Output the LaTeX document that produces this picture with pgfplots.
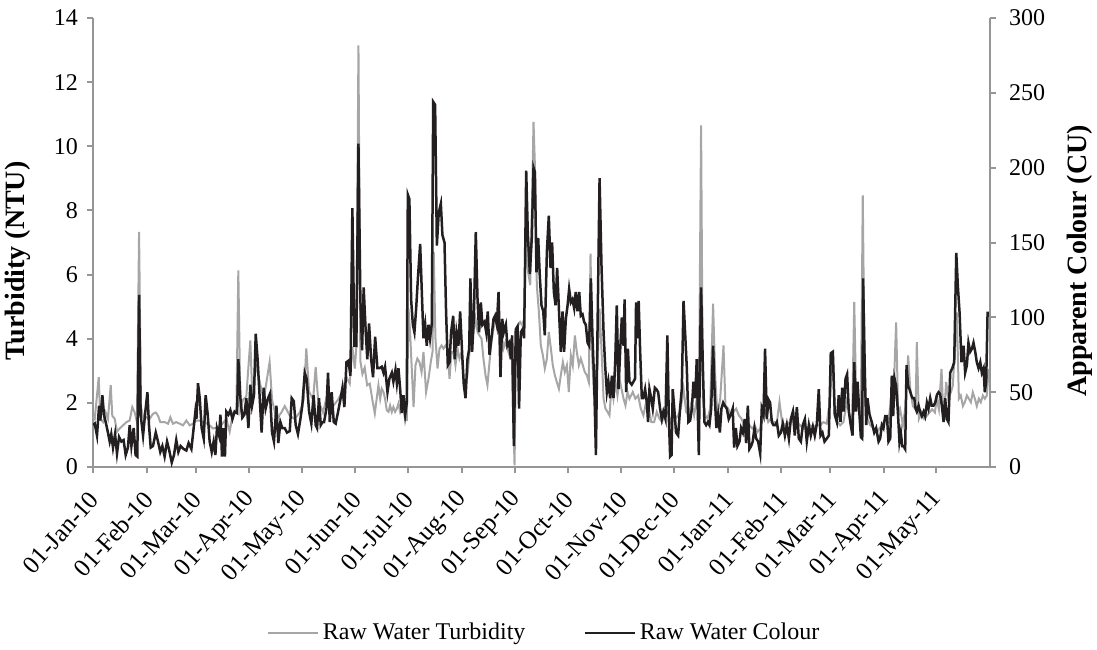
\documentclass[border=0pt]{standalone}
\usepackage{fontspec}
\setmainfont{Liberation Serif}
\usepackage{pgfplots}
\pgfplotsset{compat=1.18}
\definecolor{turb}{RGB}{166,166,166}
\definecolor{colr}{RGB}{35,31,32}
\definecolor{axgray}{RGB}{150,150,150}

\pgfplotstableread{
day val
0 1.6
1 1.5
3.3 2.8
4.2 1.5
5.8 1.4
7.3 1.7
8.6 1.5
10.2 2.55
11.1 1.6
12.5 1.5
13.8 1.1
15.3 1.2
17.3 1.3
19.2 1.4
21.1 1.45
22.6 1.87
24 1.7
25.3 1.4
26.5 7.33
27.6 1.87
29.2 1.5
30.7 1.55
32.6 1.5
34.5 1.66
36.1 1.7
37.4 1.6
38.7 1.4
41.2 1.4
43.2 1.35
44.5 1.55
46 1.35
47.9 1.4
49.9 1.35
51.8 1.3
53.7 1.45
55.6 1.3
57.5 1.35
59.5 1.45
61.4 1.45
64.3 1.4
67.1 1.3
69 1.2
72.9 1.25
76.7 1.5
78.6 1.1
80.6 1.7
82.5 1.8
83.6 6.13
84.8 1.8
86.3 2.1
88.2 2.2
90.5 3.95
91.7 2.1
93.6 3.2
95.9 2.65
98.2 2.1
101.6 3.27
103 2.1
105.5 1.5
108.4 1.7
110.3 1.9
113.2 1.6
116 1.5
118.9 1.7
121.2 2.1
122.7 3.7
124.3 2.35
126.6 2.1
128.1 3.12
129.5 2.1
132.3 1.7
135.2 2.35
138.1 1.9
141 2.1
143.8 2.4
145.8 2.8
147.7 2.6
149.2 3.75
150.6 3.07
151.5 3.75
152.7 13.15
153.8 3.3
155 2.9
156.3 3.1
157.7 2.55
159.2 2.6
160.7 2.1
162.1 1.67
164.2 2.55
165.2 2.13
166.1 2.44
167.1 2.34
168 2.13
169 1.77
170 1.72
170.9 1.92
171.9 1.72
172.8 1.87
173.8 1.72
174.8 1.82
175.7 1.98
176.7 1.72
177.6 1.87
178.6 1.82
179.6 1.46
180.5 1.46
181.5 4.94
182.4 4.2
184.4 1.87
185.5 3.17
186.6 3.38
187.8 3.27
189.0 2.96
190.1 3.59
191.6 2.34
193.0 2.75
194.3 3.27
195.3 3.59
196.0 6.7
197.0 4.0
198.2 3.07
199.3 3.69
200.5 3.79
201.6 3.69
202.8 3.79
203.9 3.69
205.1 2.75
206.2 3.59
207.4 3.59
208.5 3.17
209.7 3.69
210.8 3.38
212.0 3.59
213.1 2.75
214.3 2.55
215.4 2.86
216.6 3.59
217.7 3.79
218.9 4.21
220.0 4.63
221.2 4.21
222.3 4.1
223.5 4.0
224.6 3.38
225.8 2.86
226.9 2.55
228.1 3.27
229.2 3.9
230.4 4.31
231.5 4.73
232.7 4.52
233.8 4.21
235.0 4.21
236.1 3.69
237.3 3.9
238.4 3.69
239.6 3.48
240.7 4.0
241.9 1.3
242.5 0.05
243.4 4.1
244.6 4.42
245.7 4.52
246.9 4.42
248.0 4.63
249.2 7.33
250.3 6.08
251.5 5.67
252.6 8.37
253.4 10.76
254.2 9.41
255.3 5.67
256.5 4.83
257.6 3.79
258.8 3.48
259.9 3.07
261.1 3.38
262.2 4.21
263.4 3.69
264.5 3.17
265.7 2.86
266.8 2.65
268.0 2.44
269.1 2.86
270.3 3.27
271.4 2.96
272.6 3.17
273.7 2.34
274.9 3.48
276.0 3.17
277.2 4.1
278.3 3.59
279.5 3.17
280.6 3.38
281.8 3.17
282.9 2.96
284.1 2.86
285.2 2.65
286.2 6.65
287.2 3.38
288.3 2.13
289.3 3.17
290.2 3.17
291.4 4.94
292.5 3.69
293.7 2.13
294.8 1.82
296.0 1.72
297.1 1.61
298.3 2.55
299.4 2.13
300.6 2.65
301.7 2.23
302.9 2.75
304.0 2.44
305.2 2.13
306.3 1.92
307.5 2.34
308.6 2.13
310.5 2.34
312.0 2.13
313.6 2.23
315.1 1.82
316.6 1.61
318.2 2.03
319.7 1.82
321.2 1.4
322.8 1.4
324.3 1.72
325.8 1.51
327.4 1.4
328.9 1.72
330.4 1.72
332.0 1.4
333.5 1.61
335.1 1.51
336.6 1.61
338.1 1.82
339.7 2.44
341.2 1.72
342.7 1.61
344.3 2.03
345.8 1.61
347.3 2.13
348.5 1.72
349.8 10.65
350.8 2.13
352.1 1.61
353.5 1.51
355.0 1.82
356.7 5.09
357.9 2.86
359.2 1.61
360.8 2.13
362.7 3.79
363.8 1.92
365.4 1.82
366.9 1.61
368.4 1.72
370.0 1.82
371.5 1.61
373.0 1.51
374.6 1.3
376.1 1.51
377.6 1.3
379.2 1.2
380.7 1.3
382.2 1.09
383.8 1.2
385.3 1.51
386.8 1.72
388.4 1.4
389.9 1.51
391.4 1.4
393.4 1.4
394.9 2.03
396.4 1.4
398.0 1.3
399.5 1.4
401.0 1.3
403.0 1.72
404.9 1.4
406.8 1.3
408.7 1.2
410.6 1.2
412.5 1.3
414.5 1.25
416.4 1.3
418.3 1.3
420.2 1.4
422.1 1.35
424.0 2.13
425.6 3.59
426.7 1.61
428.3 1.4
429.8 1.3
431.7 1.4
433.6 2.03
435.2 1.61
436.7 1.51
437.9 5.15
439.0 2.13
440.5 1.72
441.7 1.61
442.8 8.47
444.0 2.13
445.5 1.51
447.1 1.3
449.0 1.2
450.9 1.09
453.8 1.3
455.7 1.5
457.6 1.4
459.0 2.13
460.1 1.6
462.0 4.51
463.2 1.6
464.3 1.8
465.9 1.3
467.4 1.9
468.9 3.48
470.1 2.44
471.6 1.9
473.2 1.8
473.9 3.89
475.1 1.5
476.6 1.7
478.1 1.5
479.7 1.6
481.2 1.7
482.7 1.8
484.3 1.7
485.4 2.13
486.6 1.8
488.1 3.06
489.3 1.4
490.8 2.65
492.0 2.13
493.5 2.33
494.6 2.54
495.8 3.68
496.9 4.82
498.1 2.13
499.2 2.23
500.4 1.9
501.5 2.02
502.7 2.23
503.8 2.13
505.0 2.02
506.1 2.33
507.3 2.13
508.4 1.9
509.6 2.13
510.7 2.02
511.9 2.23
513.0 2.13
514.2 2.23
515.2 3.06
}\turbtable

\pgfplotstableread{
day val
0 28
1 29
2.3 21
3.5 41
4.2 31
5.4 48
6.3 35
7.3 30
8.6 23
9.6 17
10.5 22
11.5 13
12.7 22
13.8 9
15 20
16.3 17
17.6 18
18.8 8
20.1 13
21.1 28
22.1 14
23.4 26
24.5 8
25.5 7
26.5 115
27.4 35
28.8 21
30.1 37
31.3 50
32.2 28
33.2 13
34.5 14
36.1 23
37.4 17
38.7 10
39.9 14
41.2 7
42.6 17
43.7 12
45.3 3
46.6 8
47.9 18
49.1 10
50.4 14
52.2 12
53.7 11
55 16
56.6 12
57.9 26
58.9 37
59.5 32
60.4 56
61.4 46
62.5 26
63.7 19
64.8 48
66 35
67.1 17
68.3 10
69.4 17
70.4 8
71.3 26
72.5 21
73.3 35
74.2 7
75.2 26
75.9 7
76.7 37
77.9 35
79 38
80.2 32
81.5 37
82.9 36
83.6 72
84.8 46
85.9 33
87.1 35
88.2 46
89.4 26
90.5 55
91.5 41
92.6 48
93.6 89
94.7 72
95.9 46
97 23
98.2 53
99.3 39
100.7 46
101.8 49
103 23
104.1 17
105.5 41
106.6 16
107.8 30
108.9 26
110.3 26
111.6 23
113.2 24
114.3 46
115.5 44
116.6 28
117.9 22
119.3 32
120.4 41
121.8 63
122.9 59
124.3 37
125.6 29
126.9 48
128.1 28
128.9 26
130 46
131 28
132 30
132.9 30
134.3 39
135.2 63
136.2 30
137.3 50
138.5 30
139.6 29
141 37
142.3 45
143.5 53
144.6 40
145.8 70
146.9 71
148.1 61
149.2 173
150.4 81
151.5 81
152.7 216
153.8 112
154.8 78
155.7 120
156.9 90
157.8 72
158.8 96
160 72
161.1 60
162.3 87
163.6 66
164.8 66
166.1 67
167.1 63
168.0 67
169.4 50
170.5 59
171.9 63
172.8 57
174.0 65
174.8 56
175.7 66
176.7 52
177.6 36
178.6 48
179.6 35
180.5 43
181.1 182
182.0 179
183.0 112
184.0 95
184.9 90
185.9 106
187.0 128
188.2 149
189.3 112
190.1 86
191.1 95
192.0 81
193.0 95
193.9 86
194.9 96
195.7 244
196.8 242
197.8 148
198.9 170
200.1 176
201.0 155
202.2 150
203.1 104
204.1 68
205.1 70
206.0 90
207.2 101
208.1 72
209.1 90
210.2 81
211.2 104
212.3 77
213.3 55
214.3 46
215.4 72
216.4 79
217.1 126
218.1 77
219.1 101
220.2 157
221.2 112
222.1 90
223.1 110
224.0 95
225.2 97
226.2 90
227.1 104
228.1 75
229.2 86
230.4 99
231.3 101
232.3 95
233.3 117
234.4 60
235.4 99
236.3 90
237.5 95
238.4 81
239.4 83
240.4 72
241.1 88
242.1 14
243.2 92
244.2 94
245.1 39
246.1 90
247.1 92
248.0 86
249.2 198
250.1 157
251.3 129
252.4 153
253.4 200
254.2 197
255.1 130
256.1 153
257.0 128
258.0 108
259.0 104
259.9 88
261.1 144
262.2 168
263.2 133
264.1 150
265.1 117
266.1 108
267.0 133
268.0 106
269.1 77
270.1 104
271.0 77
272.0 99
273.0 108
273.9 119
274.9 110
275.8 112
276.8 106
277.7 117
278.7 104
279.7 117
280.6 101
281.6 102
282.5 97
283.5 95
284.5 83
285.4 81
286.4 126
287.3 88
288.3 57
289.3 8
290.2 90
291.4 193
292.5 135
293.7 90
294.6 68
295.6 50
296.5 57
297.5 46
298.5 61
299.4 46
300.4 70
301.3 108
302.3 52
303.3 79
304.2 100
305.2 81
305.8 112
306.7 50
307.7 79
308.6 57
309.9 55
310.9 57
311.8 59
312.4 110
313.2 86
313.9 111
314.7 79
315.7 46
316.6 46
317.6 52
318.6 43
319.3 30
320.1 52
321.1 46
322.0 39
323.2 53
324.1 52
325.1 50
326.2 39
327.2 32
328.1 37
329.3 32
330.4 88
331.2 35
332.0 7
332.8 8
333.5 52
334.5 37
335.4 23
336.6 21
337.7 39
338.7 52
339.7 111
340.6 90
341.6 66
342.5 30
343.5 31
344.5 39
345.4 57
346.4 46
347.3 72
347.9 37
348.5 8
349.1 68
349.8 120
350.8 68
351.7 30
352.7 28
353.7 30
354.6 28
355.6 39
356.7 81
357.7 46
358.6 26
359.6 35
360.6 23
361.5 39
362.5 43
363.4 41
364.6 39
365.7 32
366.9 35
368.0 39
368.8 13
369.8 26
370.7 14
371.9 17
372.8 26
373.8 23
374.9 32
375.7 16
376.7 41
377.6 12
378.6 14
379.5 17
380.5 26
381.5 19
382.6 17
383.8 9
384.7 39
385.7 35
386.6 79
387.6 32
388.6 45
389.5 43
390.5 30
391.4 28
392.4 28
393.4 30
394.5 21
395.7 23
396.8 29
398.0 21
399.1 28
400.3 19
401.4 32
402.6 37
403.7 21
404.9 40
406.0 19
407.2 17
408.3 28
409.5 32
410.6 17
411.8 28
412.9 21
414.1 27
415.2 21
416.4 29
417.5 52
418.5 21
419.6 23
420.8 17
422.1 19
423.3 21
424.4 76
425.6 77
426.7 35
427.9 30
429.0 48
430.0 30
431.0 53
431.9 37
432.9 59
433.8 62
434.8 37
435.9 28
436.9 21
437.9 70
438.8 37
439.8 57
440.7 39
441.7 20
442.5 19
443.0 126
444.0 63
444.8 28
445.5 46
446.7 35
448.0 30
449.4 23
450.5 26
451.9 17
452.8 19
453.8 28
454.7 26
455.7 34
456.7 34
457.6 17
458.6 19
459.5 61
460.3 34
461.1 59
462.0 54
463.0 37
463.9 17
464.7 23
465.5 14
466.2 14
467.2 12
468.0 68
468.9 54
469.7 52
470.7 48
471.4 46
472.4 46
473.2 39
473.9 37
474.9 41
475.8 37
476.8 34
477.8 37
478.7 34
479.7 43
480.6 39
481.6 46
482.5 41
483.5 41
484.5 43
485.4 48
486.4 50
487.3 49
488.3 41
489.3 30
490.2 46
491.2 32
492.1 30
493.1 63
494.3 66
495.4 70
496.6 143
497.5 121
498.5 103
499.6 70
500.8 81
501.7 63
502.7 68
503.6 83
504.6 77
505.6 79
506.5 83
507.5 77
508.4 70
509.4 66
510.4 70
511.3 63
512.3 66
513.0 50
513.8 57
514.6 103
515.4 103
}\colourtable

\begin{document}
\begin{tikzpicture}[font=\fontsize{12}{14}\selectfont]
\pgfplotsset{
  common/.style={
    scale only axis, width=448.5pt, height=224.5pt,
    xmin=0, xmax=516,
    tick align=outside, major tick length=3pt,
    every tick/.style={axgray, line width=1pt},
    axis line style={axgray, line width=1pt},
    /pgf/number format/assume math mode=true,
    tick label style={font=\fontsize{12}{14}\selectfont},
  }
}
\begin{axis}[common,
  axis x line*=bottom, axis y line*=left,
  ymin=0, ymax=14, ytick={0,2,...,14},
  xtick={0,31,59,90,120,151,181,212,243,273,304,334,365,396,424,455,485},
  xticklabels={01-Jan-10,01-Feb-10,01-Mar-10,01-Apr-10,01-May-10,01-Jun-10,01-Jul-10,01-Aug-10,01-Sep-10,01-Oct-10,01-Nov-10,01-Dec-10,01-Jan-11,01-Feb-11,01-Mar-11,01-Apr-11,01-May-11},
  xticklabel style={font=\fontsize{12.5}{14}\selectfont, xshift=3pt, yshift=-8.5pt, rotate=48, anchor=east},
  yticklabel style={xshift=-1pt},
  ylabel={Turbidity (NTU)},
  ylabel style={font=\bfseries\fontsize{14}{16}\selectfont, at={(axis description cs:-0.0836,0.459)}, anchor=center},
]
\addplot[turb, line width=1pt] table[x=day, y=val] {\turbtable};
\coordinate (BL) at (rel axis cs:0,0);
\coordinate (TR) at (rel axis cs:1,1);
\end{axis}
\begin{axis}[common,
  axis x line=none, axis y line*=right,
  ymin=0, ymax=300, ytick={0,50,...,300},
  yticklabel style={xshift=3pt},
  ylabel={Apparent Colour (CU)},
  ylabel style={font=\bfseries\fontsize{14}{16}\selectfont, at={(axis description cs:1.1003,0.459)}, anchor=center},
  legend image code/.code={\draw[#1] (0pt,0pt) -- (25pt,0pt);},
  legend style={at={(axis description cs:0.504,-0.37)}, anchor=center, draw=none, fill=none,
    legend columns=2, font=\fontsize{12}{14}\selectfont,
    /tikz/every even column/.append style={column sep=27pt}},
]
\addlegendimage{turb, line width=1pt}
\addlegendentry{Raw Water Turbidity}
\addplot[colr, line width=1.25pt] table[x=day, y=val] {\colourtable};
\addlegendentry{Raw Water Colour}
\end{axis}
\pgfresetboundingbox
\path[use as bounding box] ([shift={(-46.5pt,-91pt)}]BL) rectangle ([shift={(53.5pt,9pt)}]TR);
\end{tikzpicture}
\end{document}
